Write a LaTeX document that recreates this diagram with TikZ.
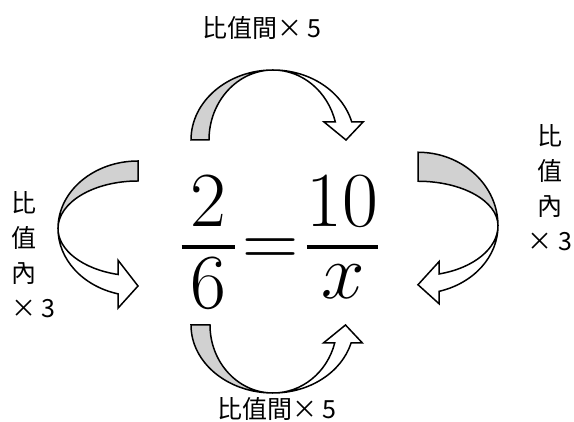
\documentclass[tikz,border=0pt]{standalone}
\usepackage{amsmath}
\usepackage{fontspec}
\newfontfamily\cjk{Noto Sans CJK TC}

\tikzset{
  backface/.style={fill=black!18,draw=black,line width=1.5pt},
  frontface/.style={fill=white,draw=black,line width=1.5pt},
  ratiolabel/.style={font=\cjk\fontsize{25}{35}\selectfont,inner sep=0pt},
}

% bent arrow: #1 transform, #2 half span, #3 depth, #4 tail width,
% #5 head band width, #6 head base height, #7 head half width
\newcommand{\bendarrow}[7]{%
  \begin{scope}[#1]
    \pgfmathsetmacro\ang{asin(#6/#3)}
    % back side (grey)
    \filldraw[backface] (-#2-#4/2,0)
      arc[start angle=180,end angle=90,x radius=#2+#4/2,y radius=#3]
      arc[start angle=90,end angle=180,x radius=#2-#4/2,y radius=#3] -- cycle;
    % front side with head
    \filldraw[frontface] (0,#3)
      arc[start angle=90,end angle=\ang,x radius=#2+#5/2,y radius=#3]
      -- ({#2*cos(\ang)+#7},#6) -- (#2,0) -- ({#2*cos(\ang)-#7},#6)
      -- ({(#2-#5/2)*cos(\ang)},#6)
      arc[start angle=\ang,end angle=90,x radius=#2-#5/2,y radius=#3] -- cycle;
  \end{scope}}

\begin{document}
\begin{tikzpicture}[x=1pt,y=1pt,line join=miter]
  \useasboundingbox (0,0) rectangle (574,422);

  % ---- proportion ----
  \node[anchor=base,inner sep=0pt,scale=3.135,font=\Huge] (ratio) at (280,155.5)
    {$\dfrac{\mkern2mu\raisebox{-4.15pt}[\height][0pt]{$2$}\mkern2mu}{\raisebox{6.06pt}[\height][0pt]{$6$}}
      \mkern-4mu=\mkern-4mu
      \dfrac{\raisebox{-4.15pt}[\height][0pt]{$10$}}{\raisebox{7pt}[\height][0pt]{$x$}}$};

  % ---- arrows ----
  \bendarrow{shift={(273,282)}}{73}{70}{18}{17}{18}{19.5}
  \bendarrow{shift={(273,97)},yscale=-1}{72.5}{68}{19}{17}{18}{19.5}
  \bendarrow{shift={(138,193.5)},xscale=-1,rotate=-90}{57.5}{80}{20}{20}{20}{24}
  \bendarrow{shift={(418,196.25)},rotate=-90}{59}{80}{29}{18}{21}{21}

  % ---- labels ----
  \node[ratiolabel,anchor=west] (acrosstop) at (202,394) {比值間× 5};
  \node[ratiolabel,anchor=west] (acrossbottom) at (217,12.5) {比值間× 5};
  \node[ratiolabel,align=left,anchor=north west] (withinleft) at (11,231) {比\\值\\內\\× 3};
  \node[ratiolabel,align=center,anchor=north] (withinright) at (550,298) {比\\值\\內\\× 3};
\end{tikzpicture}
\end{document}
